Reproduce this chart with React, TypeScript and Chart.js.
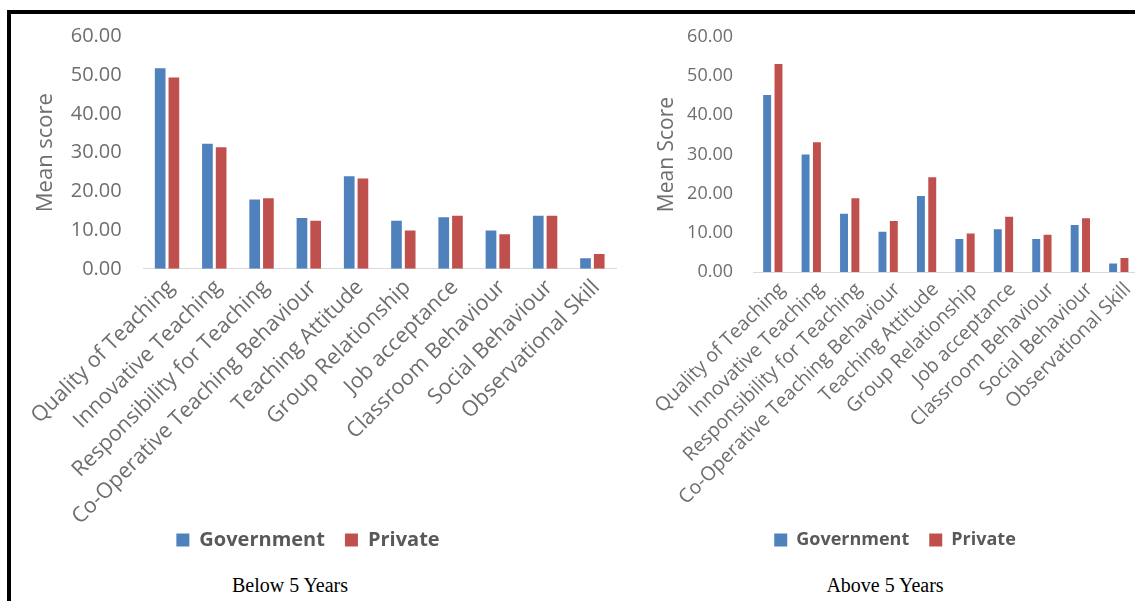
import React, { useEffect, useRef } from 'react';
import { Chart, registerables } from 'chart.js';

Chart.register(...registerables);

// ---- data ----
const categories = [
  'Quality of Teaching',
  'Innovative Teaching',
  'Responsibility for Teaching',
  'Co-Operative Teaching Behaviour',
  'Teaching Attitude',
  'Group Relationship',
  'Job acceptance',
  'Classroom Behaviour',
  'Social Behaviour',
  'Observational Skill',
];
const seriesNames = ['Government', 'Private'];
const belowGovernment = [51.8, 32.3, 17.9, 13.1, 23.9, 12.4, 13.3, 9.9, 13.7, 2.7];
const belowPrivate = [49.4, 31.4, 18.2, 12.4, 23.3, 9.9, 13.7, 8.9, 13.7, 3.8];
const aboveGovernment = [45.2, 30.0, 14.9, 10.3, 19.4, 8.4, 10.9, 8.4, 12.0, 2.2];
const abovePrivate = [53.1, 33.1, 18.8, 13.0, 24.2, 9.8, 14.1, 9.5, 13.7, 3.6];
const yMin = 0;
const yMax = 60;
const yStep = 10;
const yTitles = ['Mean score', 'Mean Score'];
const captions = ['Below 5 Years', 'Above 5 Years'];

const GOV = '#4F81BD';
const PVT = '#C0504D';
const TEXT = '#6e6e6e';
const FONT = "'Open Sans', sans-serif";

// let the long rotated category labels run below the axis box (as in the original)
const noLabelClip = {
  id: 'noLabelClip',
  beforeDraw(chart: any) {
    const x = chart.scales.x;
    if (x) x._computeLabelArea = () => undefined;
  },
};

type PanelProps = {
  gov: number[];
  pvt: number[];
  yTitle: string;
  left: number;
  w: number;
  h: number;
  padTop: number;
  padLeft: number;
  padRight: number;
  xHeight: number;
  yWidth: number;
  yPad: number;
  titlePad: number;
  tickSize: number;
  labelSize: number;
  labelShift: number;
  titleSize: number;
  legendSize: number;
  cat: number;
  bar: number;
};

function BarPanel(p: PanelProps) {
  const ref = useRef<HTMLCanvasElement>(null);
  useEffect(() => {
    const chart = new Chart(ref.current as HTMLCanvasElement, {
      type: 'bar',
      data: {
        labels: categories,
        datasets: [
          {
            label: seriesNames[0],
            data: p.gov,
            backgroundColor: GOV,
            categoryPercentage: p.cat,
            barPercentage: p.bar,
          },
          {
            label: seriesNames[1],
            data: p.pvt,
            backgroundColor: PVT,
            categoryPercentage: p.cat,
            barPercentage: p.bar,
          },
        ],
      },
      plugins: [noLabelClip],
      options: {
        responsive: false,
        animation: false,
        devicePixelRatio: 1,
        layout: { padding: { top: p.padTop, right: p.padRight, left: p.padLeft, bottom: 0 } },
        plugins: {
          legend: {
            position: 'bottom',
            labels: {
              boxWidth: 13,
              boxHeight: 13,
              padding: 20,
              color: '#595959',
              font: { family: FONT, size: p.legendSize, weight: 'bold' },
            },
          },
          tooltip: { enabled: false },
        },
        scales: {
          x: {
            grid: { display: false, drawTicks: false },
            border: { display: true, color: '#d9d9d9', width: 1 },
            ticks: {
              autoSkip: false,
              minRotation: 45,
              maxRotation: 45,
              padding: 6,
              labelOffset: p.labelShift,
              color: TEXT,
              font: { family: FONT, size: p.labelSize },
            },
            afterFit: (s: any) => {
              s.height = p.xHeight;
              s.paddingLeft = 0;
              s.paddingRight = 0;
            },
          },
          y: {
            min: yMin,
            max: yMax,
            grid: { display: false, drawTicks: false },
            border: { display: false },
            ticks: {
              stepSize: yStep,
              padding: p.yPad,
              color: TEXT,
              font: { family: FONT, size: p.tickSize },
              callback: (v: any) => Number(v).toFixed(2),
            },
            title: {
              display: true,
              text: p.yTitle,
              color: TEXT,
              font: { family: FONT, size: p.titleSize },
              padding: { top: p.titlePad, bottom: 0 },
            },
            afterFit: (s: any) => {
              s.width = p.yWidth;
            },
          },
        },
      },
    } as any);
    return () => chart.destroy();
  }, []);
  return (
    <canvas
      ref={ref}
      width={p.w}
      height={p.h}
      style={{ position: 'absolute', left: p.left, top: 0, width: p.w, height: p.h }}
    />
  );
}

export default function App() {
  return (
    <div
      style={{
        position: 'fixed',
        left: 0,
        top: 0,
        width: 1135,
        height: 601,
        overflow: 'hidden',
        background: '#fff',
      }}
    >
      <div
        style={{
          position: 'absolute',
          left: 7,
          top: 10,
          width: 1135,
          height: 600,
          borderTop: '4px solid #000',
          borderLeft: '4px solid #000',
        }}
      />
      <BarPanel
        gov={belowGovernment}
        pvt={belowPrivate}
        yTitle={yTitles[0]}
        left={0}
        w={640}
        h={560}
        padTop={36.5}
        padLeft={0}
        padRight={24}
        xHeight={241.2}
        yWidth={143.4}
        yPad={21.7}
        titlePad={32.8}
        tickSize={20}
        labelSize={21.5}
        labelShift={4}
        titleSize={22}
        legendSize={20}
        cat={0.58}
        bar={0.78}
      />
      <BarPanel
        gov={aboveGovernment}
        pvt={abovePrivate}
        yTitle={yTitles[1]}
        left={630}
        w={508}
        h={559}
        padTop={37}
        padLeft={22}
        padRight={0}
        xHeight={239}
        yWidth={101.6}
        yPad={20.6}
        titlePad={2.4}
        tickSize={18}
        labelSize={19.5}
        labelShift={9}
        titleSize={21}
        legendSize={18}
        cat={0.59}
        bar={0.7}
      />
      <div
        style={{
          position: 'absolute',
          left: 290,
          top: 574,
          transform: 'translateX(-50%)',
          fontFamily: "'Liberation Serif', serif",
          fontSize: 20,
          color: '#000',
          whiteSpace: 'nowrap',
        }}
      >
        {captions[0]}
      </div>
      <div
        style={{
          position: 'absolute',
          left: 885,
          top: 574,
          transform: 'translateX(-50%)',
          fontFamily: "'Liberation Serif', serif",
          fontSize: 20,
          color: '#000',
          whiteSpace: 'nowrap',
        }}
      >
        {captions[1]}
      </div>
    </div>
  );
}
